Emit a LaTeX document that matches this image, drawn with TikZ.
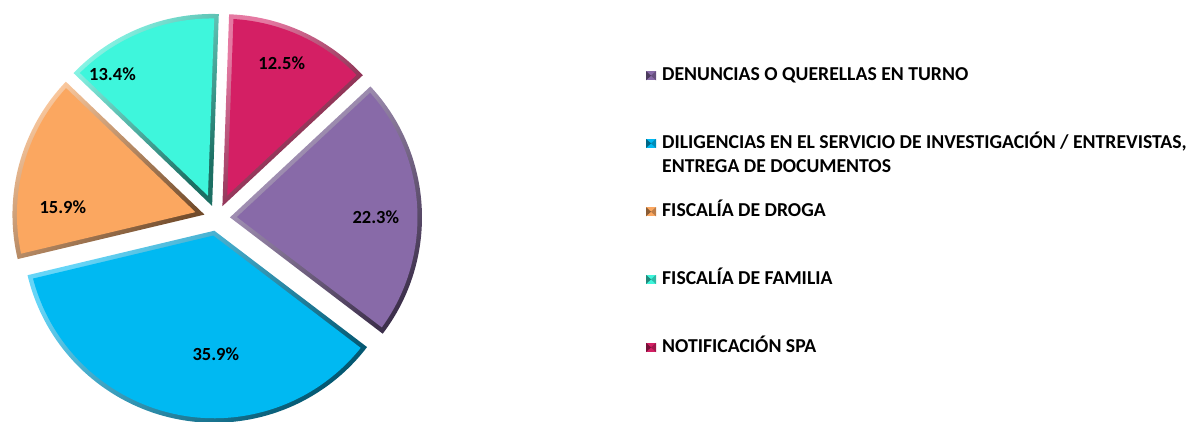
\documentclass[tikz,border=0pt]{standalone}
\usepackage{fontspec}
\setmainfont{Carlito}
\usetikzlibrary{calc}
\definecolor{cpurple}{RGB}{136,106,168}
\definecolor{cblue}{RGB}{0,185,242}
\definecolor{corange}{RGB}{251,167,96}
\definecolor{cteal}{RGB}{62,246,220}
\definecolor{ccrimson}{RGB}{212,31,100}
\newcommand{\pieslice}[3]{%
  \pgfmathsetmacro\smid{(#1+#2)/2}
  \pgfmathsetmacro\shalf{(#2-#1)/2}
  \pgfmathsetmacro\ssh{\bev/sin(\shalf)}
  \pgfmathsetmacro\sdl{asin(\bev/(\rad-\bev))}
  \pgfmathsetmacro\rin{\rad-\bev}
  \pgfmathsetmacro\sa{#1+\sdl}
  \pgfmathsetmacro\sb{#2-\sdl}
  \coordinate (A) at ($(C)+(\smid:\expl)$);
  \coordinate (Ai) at ($(A)+(\smid:\ssh)$);
  \shade[top color=#3!60!white, bottom color=#3!45!black, shading angle=45]
    (A) -- ($(A)+(#1:\rad)$) arc[start angle=#1, end angle=#2, radius=\rad] -- cycle;
  \fill[#3] (Ai) -- ($(A)+(\sa:\rin)$) arc[start angle=\sa, end angle=\sb, radius=\rin] -- cycle;
}
\tikzset{
  pct/.style={font=\fontsize{18.5}{20}\selectfont\bfseries, text=black, inner sep=0pt, anchor=base},
  legtext/.style={font=\fontsize{19.7}{24}\selectfont\bfseries, text=black, inner sep=0pt, anchor=base west, align=left},
}
\newcommand{\legmark}[3]{% x, baseline y, colour
  \fill[#3] (#1,#2+0.4) rectangle (#1+10,#2+9.6);
  \fill[#3!55!black] (#1,#2+0.4) -- (#1+5,#2+5) -- (#1,#2+9.6) -- cycle;
  \fill[#3!75!black] (#1+10,#2+0.4) -- (#1+5,#2+5) -- (#1+10,#2+9.6) -- cycle;
}
\begin{document}
\begin{tikzpicture}[x=1pt,y=1pt]
\useasboundingbox (0,-421) rectangle (1200,0);
\def\rad{192}
\def\expl{13}
\def\bev{4.5}
\coordinate (C) at (217,-218);
\pieslice{-37.3}{43}{cpurple}
\pieslice{43}{88}{ccrimson}
\pieslice{88}{136.2}{cteal}
\pieslice{136.2}{193.4}{corange}
\pieslice{193.4}{322.7}{cblue}
\node[pct] (p1) at (281.7,-69.3) {12.5\%};
\node[pct] (p2) at (112.5,-80) {13.4\%};
\node[pct] (p3) at (62.8,-213.3) {15.9\%};
\node[pct] (p4) at (375.8,-223.3) {22.3\%};
\node[pct] (p5) at (215.8,-360) {35.9\%};
\legmark{646}{-80.7}{cpurple}
\legmark{646}{-148.4}{cblue}
\legmark{646}{-216.7}{corange}
\legmark{646}{-284.4}{cteal}
\legmark{646}{-352.4}{ccrimson}
\node[legtext] (l1) at (662,-80.7) {DENUNCIAS O QUERELLAS EN TURNO};
\node[legtext] (l2) at (662,-148.4) {DILIGENCIAS EN EL SERVICIO DE INVESTIGACIÓN / ENTREVISTAS,};
\node[legtext] (l2b) at (662,-172.4) {ENTREGA DE DOCUMENTOS};
\node[legtext] (l3) at (662,-216.7) {FISCALÍA DE DROGA};
\node[legtext] (l4) at (662,-284.4) {FISCALÍA DE FAMILIA};
\node[legtext] (l5) at (662,-352.4) {NOTIFICACIÓN SPA};
\end{tikzpicture}
\end{document}
